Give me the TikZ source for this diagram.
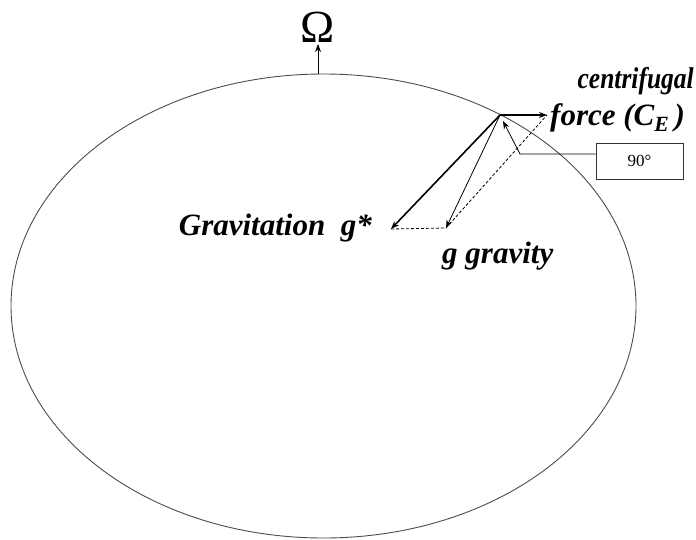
\documentclass[tikz,border=0pt]{standalone}
\usepackage{fontspec}
\setmainfont{Liberation Serif}
\usetikzlibrary{arrows.meta}
\begin{document}
\begin{tikzpicture}[x=1pt,y=-1pt,
  lbl/.style={font=\fontsize{31}{32}\selectfont\bfseries\itshape, inner sep=0pt},
  vec/.style={-{Stealth[length=8pt,width=6pt]}},
  dsh/.style={dashed, dash pattern=on 3pt off 2pt}]
\useasboundingbox (0,0) rectangle (696,539);
\draw[gray!60!black, line width=0.9pt] (323.5,306) ellipse [x radius=312.5, y radius=232];
\coordinate (top) at (318,74);
\node[inner sep=0pt, anchor=base, font=\fontsize{46}{48}\selectfont] (om) at (318,42) {Ω};
\draw[vec, line width=0.8pt] (top) -- (318,44);
\coordinate (P) at (500,115);
\coordinate (C) at (547,115);
\coordinate (G) at (391,229);
\coordinate (g) at (446,228);
\draw[vec, line width=2pt] (P) -- (C);
\draw[vec, line width=1.6pt] (P) -- (G);
\draw[vec, line width=0.8pt] (P) -- (g);
\draw[dsh, line width=0.8pt] (G) -- (g) -- (C);
\node[draw, gray!40!black, text=black, line width=0.9pt, minimum width=87pt, minimum height=36pt, inner sep=0pt, font=\fontsize{17}{18}\selectfont] (box) at (639.5,161) {90\textdegree};
\coordinate (k) at (520,154);
\draw[vec, line width=0.8pt] (box.west |- k) -- (k) -- (503,121);
\node[lbl, font=\fontsize{30}{31}\selectfont\bfseries\itshape\addfontfeature{FakeStretch=0.85}, anchor=base east] (cen) at (694,88) {centrifugal};
\node[lbl, anchor=base west] (frc) at (550,125) {force (C\textsubscript{\raisebox{-0.3ex}{E}}\,)};
\node[lbl, anchor=base east] (grv) at (372,235) {Gravitation~ g*};
\node[lbl, anchor=base west] (gg) at (442,263) {g gravity};
\end{tikzpicture}
\end{document}
